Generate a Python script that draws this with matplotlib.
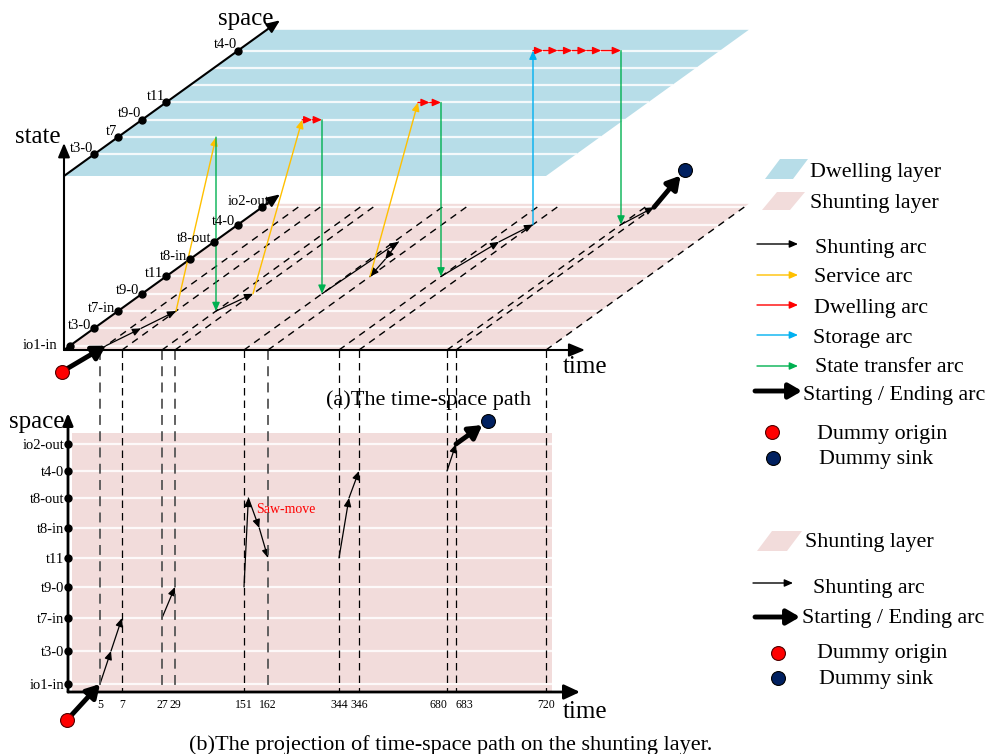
import numpy as np
import matplotlib
matplotlib.use("Agg")
import matplotlib.pyplot as plt
from matplotlib.patches import Polygon, FancyArrowPatch, Rectangle
from matplotlib.transforms import Affine2D

plt.rcParams['font.family'] = ['Liberation Serif', 'DejaVu Serif']

# ---------------- data ----------------
SPACE_NODES = ['io1-in', 't3-0', 't7-in', 't9-0', 't11', 't8-in', 't8-out', 't4-0', 'io2-out']
DWELL_LABELS = {1: 't3-0', 2: 't7', 3: 't9-0', 4: 't11', 7: 't4-0'}
TIME_TICKS = [5, 7, 27, 29, 151, 162, 344, 346, 680, 683, 720]
HORIZON = 720

# shunting arcs (t0, s0, t1, s1); s = index in SPACE_NODES
SHUNT_ARCS = [(5, 0, 6, 1), (6, 1, 7, 2), (27, 2, 29, 3),
              (151, 3, 153, 6), (153, 6, 158, 5), (158, 5, 162, 4),
              (344, 4, 345, 6), (345, 6, 346, 7), (680, 7, 683, 8)]
# service arcs: shunting layer (t0, s0) -> dwelling layer (t1, s1)
SERVICE_ARCS = [(7, 2, 27, 2), (29, 3, 116, 3), (162, 4, 285, 4)]
DWELL_SPACE = [3, 4, 7]
DWELL_TIMES = [[116, 134, 151], [285, 315, 344], [346, 385, 440, 495, 550, 605, 680]]
STORAGE_ARCS = [(346, 7)]
TRANSFER_ARCS = [(27, 2), (151, 3), (344, 4), (680, 7)]
START_NODE = (5, 0)
END_NODE = (683, 8)

# ---------------- style / layout ----------------
W, HH = 987, 754
BLUE_LAYER = '#b7dde8'
PINK = '#f2dcdb'
C_SHUNT = 'black'
C_SERVICE = '#ffc000'
C_DWELL = '#ff0000'
C_STORAGE = '#00b0f0'
C_TRANSFER = '#00b050'
C_ORIGIN = '#ff0000'
C_SINK = '#002060'
GRAY_DASH = {5, 27, 29, 162}

TIME_ANCH = [0] + TIME_TICKS
TICK_PX = [64, 100, 122, 162, 175, 244, 268, 339, 359, 447, 456, 546]


def tx(t):
    return np.interp(t, TIME_ANCH, TICK_PX)


SPACE_Y_B = [684, 651, 618, 587, 558, 528, 498, 471, 444]


def sy(s):
    return np.interp(s, np.arange(len(SPACE_NODES)), SPACE_Y_B)


# oblique projection of panel (a): (time position, space index) -> pixel, per state layer
DX, DY, YF, LH, S0 = 24.0, 17.3, 350.0, 174.0, 0.25
S_TOP = 8.2


def layer(k):
    return Affine2D(np.array([[1.0, DX, S0 * DX],
                              [0.0, -DY, YF - S0 * DY - k * LH],
                              [0.0, 0.0, 1.0]]))


def P(t, s, k):
    return tuple(layer(k).transform((tx(t), s)))


THIN = '-|>,head_length=0.5,head_width=0.22'
THICK = '-|>,head_length=0.55,head_width=0.32'

fig = plt.figure(figsize=(W / 100, HH / 100), dpi=100)

# ---------------- panel (b): projection on shunting layer ----------------
XB0, XB1, YB0, YB1 = 68, 580, 692, 413
axb = fig.add_axes([XB0 / W, 1 - YB0 / HH, (XB1 - XB0) / W, (YB0 - YB1) / HH])
axb.set_xlim(XB0, XB1)
axb.set_ylim(YB0, YB1)
for sp in axb.spines.values():
    sp.set_visible(False)
axb.patch.set_visible(False)
axb.add_patch(Rectangle((72, 433), 552 - 72, YB0 - 433, fc=PINK, ec='none', zorder=0))
axb.hlines(SPACE_Y_B, 72, 552, color='white', lw=1.6, alpha=0.85, zorder=1)
axb.set_xticks(tx(TIME_TICKS))
axb.set_xticklabels([str(t) for t in TIME_TICKS], fontsize=8.5)
axb.tick_params(axis='x', length=0, pad=5)
xl = axb.get_xticklabels()
xl[TIME_TICKS.index(680)].set_horizontalalignment('right')
xl[TIME_TICKS.index(683)].set_horizontalalignment('left')
axb.set_yticks(SPACE_Y_B)
axb.set_yticklabels(SPACE_NODES, fontsize=10.5)
axb.tick_params(axis='y', length=0, pad=2.5)


def arrow(axis, p0, p1, color, lw=0.9, style=THIN, ms=10, z=5, sa=0, sb=0):
    a = FancyArrowPatch(p0, p1, arrowstyle=style, mutation_scale=ms, lw=lw, color=color,
                        shrinkA=sa, shrinkB=sb, zorder=z, transform=axis.transData,
                        clip_on=False)
    axis.add_patch(a)


for (t0, s0, t1, s1) in SHUNT_ARCS:
    arrow(axb, (tx(t0), sy(s0)), (tx(t1), sy(s1)), C_SHUNT, lw=0.9)
axb.text(256, 509, 'Saw-move', color='red', fontsize=10, va='center', zorder=6)

# dummy origin / sink of panel (b)
b_start = (tx(START_NODE[0]), sy(START_NODE[1]))
b_end = (tx(END_NODE[0]), sy(END_NODE[1]))
b_org = (b_start[0] - 33, b_start[1] + 36)
b_snk = (b_end[0] + 32, b_end[1] - 23)
arrow(axb, b_org, b_start, 'black', lw=3.5, style=THICK, ms=14, sa=4, z=6)
arrow(axb, b_end, b_snk, 'black', lw=3.5, style=THICK, ms=14, sb=5, z=6)
axb.plot(*b_org, 'o', ms=10, mfc=C_ORIGIN, mec='#500000', mew=0.8, zorder=8, clip_on=False)
axb.plot(*b_snk, 'o', ms=10, mfc=C_SINK, mec='#000000', mew=0.8, zorder=8, clip_on=False)

# ---------------- main canvas (panel a, legends) ----------------
ax = fig.add_axes([0, 0, 1, 1])
ax.set_xlim(0, W)
ax.set_ylim(HH, 0)
ax.axis('off')
ax.patch.set_visible(False)

# layers
for k, col in [(0, PINK), (1, BLUE_LAYER)]:
    corners = layer(k).transform([(tx(0), -S0), (tx(HORIZON), -S0),
                                  (tx(HORIZON), S_TOP), (tx(0), S_TOP)])
    ax.add_patch(Polygon(corners, closed=True, fc=col, ec='none', zorder=1))

# white grid lines on layers
for s in range(len(SPACE_NODES)):
    p0, p1 = P(0, s, 0), P(HORIZON, s, 0)
    ax.plot([p0[0], p1[0]], [p0[1], p1[1]], color='white', lw=1.6, alpha=0.85, zorder=2)
for s in range(1, 8):
    p0, p1 = P(0, s, 1), P(HORIZON, s, 1)
    ax.plot([p0[0], p1[0]], [p0[1], p1[1]], color='white', lw=1.6, alpha=0.85, zorder=2)

# dashed time lines on the shunting floor and projected down to panel (b)
for t in TIME_TICKS:
    p0 = layer(0).transform((tx(t), -S0))
    p1 = layer(0).transform((tx(t), S_TOP))
    ax.plot([p0[0], p1[0]], [p0[1], p1[1]], color='black', lw=1.0,
            ls=(0, (5, 4)), zorder=3)
    gray = t in GRAY_DASH
    ax.plot([tx(t), tx(t)], [p0[1], YB0], color='#555555' if gray else 'black',
            lw=1.3 if gray else 0.9, ls=(0, (5.5, 3.5)) if gray else (0, (6, 4)), zorder=3)

# axes of panel (a)
ax_o = P(0, -S0, 0)
arrow(ax, ax_o, (585, ax_o[1]), 'black', lw=1.5, style='-|>,head_length=0.6,head_width=0.25', ms=16, z=4)
arrow(ax, ax_o, (ax_o[0], 143), 'black', lw=1.5, style='-|>,head_length=0.6,head_width=0.25', ms=14, z=4)
for k in (0, 1):
    arrow(ax, P(0, -S0, k), P(0, 8.75, k), 'black', lw=1.5,
          style='-|>,head_length=0.6,head_width=0.25', ms=13, z=4)

# space ticks on axes
for s, name in enumerate(SPACE_NODES):
    x, y = P(0, s, 0)
    ax.plot(x, y, 'o', ms=5, color='black', zorder=6)
    if name == 'io1-in':
        ax.text(x - 13, y, name, ha='right', va='center', fontsize=10.5, zorder=7)
    elif name == 'io2-out':
        ax.text(x + 7, y - 6, name, ha='right', va='center', fontsize=10.5, zorder=7)
    else:
        ax.text(x - 3, y - 3, name, ha='right', va='center', fontsize=10.5, zorder=7)
for s, name in DWELL_LABELS.items():
    x, y = P(0, s, 1)
    ax.plot(x, y, 'o', ms=5, color='black', zorder=6)
    ax.text(x - 1, y - 6, name, ha='right', va='center', fontsize=10.5, zorder=7)

ax.text(38, 143, 'state', fontsize=18, ha='center', va='baseline')
ax.text(246, 25, 'space', fontsize=18, ha='center', va='baseline')
ax.text(585, 373, 'time', fontsize=18, ha='center', va='baseline')
ax.text(37, 428, 'space', fontsize=18, ha='center', va='baseline')
ax.text(585, 718, 'time', fontsize=18, ha='center', va='baseline')

# panel (b) axes
arrow(ax, (XB0, YB0), (XB0, YB1), 'black', lw=2.0, style='-|>,head_length=0.6,head_width=0.25', ms=12, z=4)
arrow(ax, (XB0, YB0), (XB1, YB0), 'black', lw=2.0, style='-|>,head_length=0.6,head_width=0.28', ms=16, z=4)
ax.plot([XB0] * len(SPACE_Y_B), SPACE_Y_B, 'o', ms=5, color='black', zorder=6)

# path in panel (a)
for (t0, s0, t1, s1) in SHUNT_ARCS:
    arrow(ax, P(t0, s0, 0), P(t1, s1, 0), C_SHUNT, lw=0.9)
for (t0, s0, t1, s1) in SERVICE_ARCS:
    arrow(ax, P(t0, s0, 0), P(t1, s1, 1), C_SERVICE, lw=1.0)
for s, times in zip(DWELL_SPACE, DWELL_TIMES):
    for a, b in zip(times[:-1], times[1:]):
        arrow(ax, P(a, s, 1), P(b, s, 1), C_DWELL, lw=1.0)
for (t, s) in STORAGE_ARCS:
    arrow(ax, P(t, s, 0), P(t, s, 1), C_STORAGE, lw=1.0)
for (t, s) in TRANSFER_ARCS:
    arrow(ax, P(t, s, 1), P(t, s, 0), C_TRANSFER, lw=1.0)

a_start = P(*START_NODE, 0)
a_end = P(*END_NODE, 0)
a_org = (a_start[0] - 44, a_start[1] + 26)
a_snk = (a_end[0] + 31, a_end[1] - 37)
arrow(ax, a_org, a_start, 'black', lw=3.5, style=THICK, ms=14, sa=4, z=6)
arrow(ax, a_end, a_snk, 'black', lw=3.5, style=THICK, ms=14, sb=5, z=6)
ax.plot(*a_org, 'o', ms=10, mfc=C_ORIGIN, mec='#500000', mew=0.8, zorder=8)
ax.plot(*a_snk, 'o', ms=10, mfc=C_SINK, mec='#000000', mew=0.8, zorder=8)

# captions
ax.text(428, 405, '(a)The time-space path', fontsize=16, ha='center', va='baseline')
ax.text(451, 750, '(b)The projection of time-space path on the shunting layer.',
        fontsize=16, ha='center', va='baseline')

# ---------------- legends ----------------
FS = 15.8
ax.add_patch(Polygon([(765, 179), (793, 179), (808, 159), (780, 159)], fc=BLUE_LAYER, ec='none'))
ax.text(810, 177, 'Dwelling layer', fontsize=FS, va='baseline')
ax.add_patch(Polygon([(762, 210), (790, 210), (805, 192), (777, 192)], fc=PINK, ec='none'))
ax.text(810, 208, 'Shunting layer', fontsize=FS, va='baseline')

leg_arcs = [(C_SHUNT, 'Shunting arc', 244, 253, 815),
            (C_SERVICE, 'Service arc', 275, 282, 814),
            (C_DWELL, 'Dwelling arc', 305, 313, 814),
            (C_STORAGE, 'Storage arc', 335, 343, 813),
            (C_TRANSFER, 'State transfer arc', 366, 372, 815)]
for col, lab, ya, yt, xt_ in leg_arcs:
    arrow(ax, (757, ya), (798, ya), col, lw=1.0)
    ax.text(xt_, yt, lab, fontsize=FS, va='baseline')
arrow(ax, (755, 391), (802, 391), 'black', lw=3.5, style=THICK, ms=14)
ax.text(803, 400, 'Starting / Ending arc', fontsize=FS, va='baseline')
ax.plot(772, 432, 'o', ms=10, mfc=C_ORIGIN, mec='#500000', mew=0.8)
ax.text(817, 439, 'Dummy origin', fontsize=FS, va='baseline')
ax.plot(773, 458, 'o', ms=10, mfc=C_SINK, mec='black', mew=0.8)
ax.text(819, 464, 'Dummy sink', fontsize=FS, va='baseline')

ax.add_patch(Polygon([(757, 551), (787, 551), (802, 531), (772, 531)], fc=PINK, ec='none'))
ax.text(805, 547, 'Shunting layer', fontsize=FS, va='baseline')
arrow(ax, (753, 583), (793, 583), 'black', lw=1.0)
ax.text(813, 593, 'Shunting arc', fontsize=FS, va='baseline')
arrow(ax, (755, 617), (800, 617), 'black', lw=3.5, style=THICK, ms=14)
ax.text(802, 623, 'Starting / Ending arc', fontsize=FS, va='baseline')
ax.plot(778, 653, 'o', ms=10, mfc=C_ORIGIN, mec='#500000', mew=0.8)
ax.text(817, 658, 'Dummy origin', fontsize=FS, va='baseline')
ax.plot(778, 678, 'o', ms=10, mfc=C_SINK, mec='black', mew=0.8)
ax.text(819, 684, 'Dummy sink', fontsize=FS, va='baseline')

fig.savefig('out.png', dpi=100)
